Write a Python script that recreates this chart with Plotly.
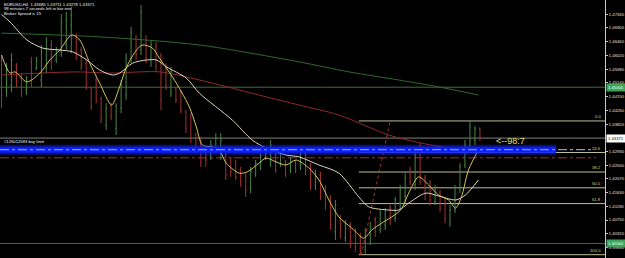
import plotly.graph_objects as go

# ---------------- data ----------------
bar_idx = list(range(97))
opens = [1.4587,1.4491,1.4507,1.4568,1.4529,1.4491,1.4581,1.4561,1.4523,1.4561,
         1.4635,1.4587,1.4613,1.4635,1.4699,1.4664,1.4619,1.4577,1.4497,1.4523,
         1.4465,1.4379,1.4443,1.4369,1.4433,1.4475,1.4593,1.4657,1.4619,1.4651,
         1.4587,1.4632,1.4600,1.4568,1.4485,1.4497,1.4485,1.4421,1.4408,1.4347,
         1.4331,1.4299,1.4280,1.4299,1.4299,1.4283,1.4267,1.4261,1.4235,1.4216,
         1.4177,1.4222,1.4248,1.4273,1.4261,1.4283,1.4254,1.4261,1.4235,1.4261,
         1.4251,1.4289,1.4248,1.4184,1.4219,1.4177,1.4145,1.4037,1.4081,1.4017,
         1.4059,1.4043,1.4024,1.3979,1.4027,1.4075,1.4043,1.4059,1.4113,1.4081,
         1.4129,1.4152,1.4235,1.4187,1.4299,1.4209,1.4193,1.4133,1.4161,1.4123,
         1.4069,1.4107,1.4177,1.4251,1.4315,1.4331,1.43685]
highs = [1.4603,1.4577,1.4609,1.4577,1.4545,1.4536,1.4597,1.4597,1.4635,1.4661,
         1.4651,1.4629,1.4734,1.4741,1.4747,1.4673,1.4629,1.4587,1.4501,1.4533,
         1.4469,1.4449,1.4449,1.4449,1.4523,1.4609,1.4693,1.4667,1.4763,1.4667,
         1.4651,1.4645,1.4609,1.4577,1.4565,1.4501,1.4491,1.4427,1.4417,1.4353,
         1.4341,1.4309,1.4331,1.4353,1.4353,1.4289,1.4277,1.4267,1.4245,1.4225,
         1.4245,1.4267,1.4289,1.4309,1.4331,1.4289,1.4299,1.4267,1.4277,1.4267,
         1.4309,1.4299,1.4257,1.4235,1.4229,1.4187,1.4155,1.4139,1.4091,1.4075,
         1.4069,1.4049,1.4033,1.4049,1.4069,1.4085,1.4107,1.4113,1.4123,1.4149,
         1.4187,1.4225,1.4245,1.4299,1.4321,1.4219,1.4203,1.4187,1.4171,1.4145,
         1.4123,1.4187,1.4257,1.4331,1.4392,1.4376,1.43711]
lows = [1.4433,1.4469,1.4485,1.4501,1.4469,1.4475,1.4501,1.4555,1.4501,1.4545,
        1.4555,1.4577,1.4597,1.4619,1.4609,1.4587,1.4555,1.4491,1.4427,1.4449,
        1.4385,1.4363,1.4395,1.4347,1.4417,1.4459,1.4577,1.4587,1.4603,1.4577,
        1.4565,1.4549,1.4427,1.4491,1.4469,1.4449,1.4417,1.4353,1.4321,1.4289,
        1.4245,1.4245,1.4267,1.4289,1.4267,1.4203,1.4213,1.4203,1.4181,1.4149,
        1.4161,1.4213,1.4235,1.4267,1.4245,1.4225,1.4245,1.4213,1.4225,1.4225,
        1.4235,1.4219,1.4171,1.4171,1.4139,1.4107,1.4043,1.4011,1.4017,1.4005,
        1.3985,1.3973,1.3964,1.3967,1.3995,1.4021,1.4033,1.4043,1.4059,1.4069,
        1.4107,1.4129,1.4187,1.4171,1.4187,1.4139,1.4123,1.4123,1.4101,1.4065,
        1.4053,1.4097,1.4161,1.4241,1.4299,1.4315,1.43278]
closes = [1.4475,1.4555,1.4587,1.4517,1.4485,1.4523,1.4517,1.4587,1.4613,1.4645,
          1.4581,1.4619,1.4709,1.4715,1.4731,1.4603,1.4571,1.4504,1.4440,1.4459,
          1.4401,1.4433,1.4405,1.4440,1.4507,1.4593,1.4673,1.4603,1.4741,1.4593,
          1.4635,1.4568,1.4459,1.4507,1.4549,1.4459,1.4427,1.4369,1.4337,1.4299,
          1.4261,1.4267,1.4315,1.4337,1.4331,1.4219,1.4229,1.4213,1.4197,1.4171,
          1.4229,1.4257,1.4280,1.4299,1.4315,1.4235,1.4289,1.4222,1.4267,1.4235,
          1.4293,1.4235,1.4187,1.4219,1.4152,1.4123,1.4059,1.4123,1.4037,1.4059,
          1.4001,1.3989,1.3979,1.4037,1.4056,1.4037,1.4097,1.4101,1.4081,1.4139,
          1.4171,1.4209,1.4197,1.4283,1.4209,1.4155,1.4139,1.4171,1.4113,1.4081,
          1.4107,1.4177,1.4245,1.4315,1.4373,1.4366,1.43371]

# moving averages, sampled along the drawn curves (bar index, price)
ma_fast_x = [0,1.7,2.7,5.1,7.7,9.7,11.7,14.1,15.7,17.7,19.7,22.1,23.7,25.1,27.1,28.3,30.3,31.7,34.3,36.1,
             37.7,39.1,40.3,42.3,43.7,45.1,47.7,49.3,51.7,53.1,55.1,57.1,59.1,61.7,63.7,65.7,67.7,70.3,72.7,74.3,
             76.3,80.1,81.7,83.7,85.7,87.7,89.7,91.1,92.3,93.7,95.7]
ma_fast_y = [1.4603,1.4545,1.4549,1.4517,1.4545,1.4587,1.4619,1.4667,1.4651,1.4577,1.4513,1.4443,1.4501,1.4565,
             1.4619,1.4635,1.4625,1.4593,1.4533,1.4485,1.4437,1.4373,1.4315,1.4309,1.4299,1.4257,1.4225,1.4229,
             1.4257,1.4273,1.4261,1.4251,1.4267,1.4241,1.4203,1.4139,1.4085,1.4049,1.4017,1.4043,1.4065,1.4107,
             1.4161,1.4213,1.4187,1.4155,1.4139,1.4113,1.4149,1.4235,1.4299]
ma_mid_x = [0,1.7,5.1,8.3,11.7,14.3,17.1,19.7,22.3,23.7,26.3,29.1,31.1,33.1,37.1,39.7,46.3,50.3,53.1,57.1,
            59.7,63.7,67.7,71.7,73.7,77.7,79.7,81.7,85.1,87.7,91.1,93.1,95.7]
ma_mid_y = [1.4733,1.4709,1.4651,1.4625,1.4619,1.4613,1.4587,1.4555,1.4539,1.4545,1.4577,1.4587,1.4587,1.4565,
            1.4529,1.4481,1.4395,1.4331,1.4305,1.4283,1.4277,1.4251,1.4225,1.4149,1.4117,1.4107,1.4107,1.4129,
            1.4161,1.4152,1.4139,1.4155,1.4203]
ma_slow_x = [0,15.1,21.7,31.7,39.7,46.3,53.1,59.7,67.7,77.7,84.3,91.1,95.7]
ma_slow_y = [1.4539,1.4549,1.4545,1.4549,1.4523,1.4497,1.4469,1.4443,1.4411,1.4347,1.4321,1.4302,1.4299]
ma_long_x = [0,19.7,39.7,59.7,69.7,79.7,87.7,95.7]
ma_long_y = [1.4673,1.4661,1.4635,1.4581,1.4549,1.4523,1.4501,1.4475]

# price levels
bid_price = 1.43371
buy_limit = 1.4300
stop_level = 1.4274
round_levels = [1.45000, 1.40000]
fib_high, fib_low = 1.4392, 1.3964
fib_start_bar = 71.7
fib_top_bar, fib_bottom_bar = 78.0, 72.2
fib_pcts = [0.0, 23.6, 38.2, 50.0, 61.8, 100.0]

tick_vals = [1.4734, 1.4690, 1.4646, 1.4602, 1.4558, 1.4514, 1.4470, 1.4426, 1.4382,
             1.4293, 1.4250, 1.4207, 1.4163, 1.4119, 1.4075, 1.4032, 1.3988]
tick_text = ["%.5f" % v for v in tick_vals]

header_lines = ["EURUSD,H4  1.43685 1.43711 1.43278 1.43371",
                "98 minutes 7 seconds left to bar end",
                "Broker Spread is 15"]
order_label = "#125012583 buy limit"
timer_label = "<--98:7"

# ---------------- figure ----------------
FONT = "Liberation Sans, Arial, sans-serif"
X_RANGE = [-0.3, 121.1]
Y_RANGE = [1.39534, 1.4779]

fig = go.Figure()

shapes = []
for lv in round_levels:
    shapes.append(dict(type="line", xref="paper", x0=0, x1=1, yref="y", y0=lv, y1=lv,
                       line=dict(color="#3f6f3f", width=1), layer="below"))
shapes.append(dict(type="line", xref="paper", x0=0, x1=1, yref="y", y0=bid_price, y1=bid_price,
                   line=dict(color="#808080", width=1), layer="below"))
for p in fib_pcts:
    lv = fib_high - p / 100.0 * (fib_high - fib_low)
    shapes.append(dict(type="line", xref="x", x0=fib_start_bar, x1=X_RANGE[1] + 5, yref="y", y0=lv, y1=lv,
                       line=dict(color="#bdbd92", width=1), layer="below"))
shapes.append(dict(type="line", xref="x", x0=fib_bottom_bar, x1=fib_top_bar, yref="y", y0=fib_low, y1=fib_high,
                   line=dict(color="#b03030", width=1, dash="dot"), layer="below"))
shapes.append(dict(type="line", xref="paper", x0=0, x1=0.985, yref="y", y0=stop_level, y1=stop_level,
                   line=dict(color="#a83030", width=1, dash="dashdot"), layer="below"))
fig.update_layout(shapes=shapes)

# OHLC bars
fig.add_trace(go.Ohlc(x=bar_idx, open=opens, high=highs, low=lows, close=closes,
                      increasing=dict(line=dict(color="#4a844a", width=1)),
                      decreasing=dict(line=dict(color="#a33232", width=1)),
                      tickwidth=0.2, hoverinfo="skip", showlegend=False))

# moving averages
for xs, ys, col in [(ma_long_x, ma_long_y, "#2f6a2f"), (ma_slow_x, ma_slow_y, "#8e2a2a"),
                    (ma_mid_x, ma_mid_y, "#e0d6bc"), (ma_fast_x, ma_fast_y, "#d4c45c")]:
    fig.add_trace(go.Scatter(x=xs, y=ys, mode="lines", line=dict(color=col, width=1, shape="spline", smoothing=0.8),
                             hoverinfo="skip", showlegend=False))

# buy limit band (glow + core + centre dash-dot)
band_end = 111.3
fig.add_trace(go.Scatter(x=[X_RANGE[0], band_end], y=[buy_limit, buy_limit], mode="lines",
                         line=dict(color="rgba(20,40,255,0.45)", width=10), hoverinfo="skip", showlegend=False))
fig.add_trace(go.Scatter(x=[X_RANGE[0], band_end], y=[buy_limit, buy_limit], mode="lines",
                         line=dict(color="#0a1eff", width=6), hoverinfo="skip", showlegend=False))
fig.add_trace(go.Scatter(x=[X_RANGE[0], 119], y=[buy_limit, buy_limit], mode="lines",
                         line=dict(color="#7c96ff", width=1.2, dash="dashdot"), hoverinfo="skip", showlegend=False))

ann = []
for k, t in enumerate(header_lines):
    ann.append(dict(text=t, xref="paper", yref="paper", x=0.003, y=1 - (4 + 5 * k) / 258.0,
                    xanchor="left", yanchor="middle", showarrow=False,
                    font=dict(family=FONT, size=4.2, color="#f0f0f0")))
ann.append(dict(text=order_label, xref="paper", yref="y", x=0.003, y=buy_limit, yshift=4,
                xanchor="left", yanchor="bottom", showarrow=False,
                font=dict(family=FONT, size=4.2, color="#f0f0f0")))
ann.append(dict(text=timer_label, xref="x", yref="y", x=98.8, y=buy_limit, yshift=2,
                xanchor="left", yanchor="bottom", showarrow=False,
                font=dict(family=FONT, size=9, color="#e6e070")))
for p in fib_pcts:
    lv = fib_high - p / 100.0 * (fib_high - fib_low)
    ann.append(dict(text="%.1f" % p, xref="paper", yref="y", x=0.997, y=lv, yshift=0,
                    xanchor="right", yanchor="bottom", showarrow=False,
                    font=dict(family=FONT, size=4.2, color="#d6d67a")))
for lv, bg, fg in [(round_levels[0], "#3da55a", "#e8ffe8"), (bid_price, "#ffffff", "#000000"),
                   (round_levels[1], "#3da55a", "#e8ffe8")]:
    ann.append(dict(text="%.5f" % lv, xref="paper", yref="y", x=1, xshift=1, y=lv,
                    xanchor="left", yanchor="middle", showarrow=False, bgcolor=bg,
                    borderpad=1, font=dict(family=FONT, size=4.2, color=fg)))

fig.update_layout(
    width=625, height=258, margin=dict(l=0, r=18, t=0, b=0),
    paper_bgcolor="#000000", plot_bgcolor="#000000",
    annotations=ann, showlegend=False,
    xaxis=dict(range=X_RANGE, visible=False, rangeslider=dict(visible=False), fixedrange=True),
    yaxis=dict(range=Y_RANGE, side="right", tickvals=tick_vals, ticktext=tick_text,
               showgrid=False, zeroline=False, showline=True, linecolor="#c8c8c8", linewidth=1,
               ticks="outside", ticklen=2, tickcolor="#c8c8c8",
               tickfont=dict(family=FONT, size=4.2, color="#e0e0e0")),
)

fig.write_html("out.html")
